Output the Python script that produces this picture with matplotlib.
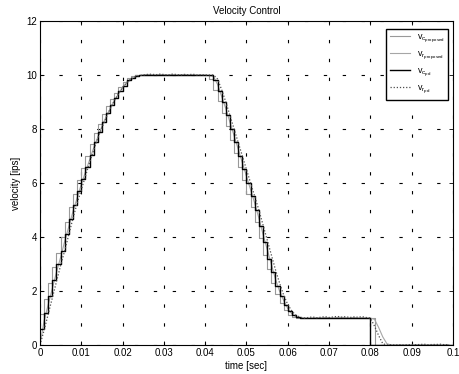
import numpy as np
import matplotlib
matplotlib.use("Agg")
import matplotlib.pyplot as plt

# periodo de muestreo del controlador (s)
periodo = 0.001
tiempo = np.arange(100) * periodo

# comando de velocidad, controlador propuesto
vc_propuesto = [
    1.15, 1.7, 2.3, 2.9, 3.4, 4.0, 4.55, 5.1, 5.6, 6.1,
    6.55, 7.0, 7.45, 7.85, 8.2, 8.55, 8.85, 9.1, 9.35, 9.55,
    9.75, 9.87, 9.95, 10, 10, 10, 10, 10, 10, 10,
    10, 10, 10, 10, 10, 10, 10, 10, 10, 10,
    10, 9.85, 9.45, 9.05, 8.6, 8.1, 7.6, 7.1, 6.6, 6.1,
    5.6, 5.1, 4.55, 3.95, 3.35, 2.8, 2.3, 1.9, 1.55, 1.3,
    1.12, 1.04, 1.0, 1, 1, 1, 1, 1, 1, 1,
    1, 1, 1, 1, 1, 1, 1, 1, 1, 1,
    1, 0, 0, 0, 0, 0, 0, 0, 0, 0,
    0, 0, 0, 0, 0, 0, 0, 0, 0, 0,
]

# respuesta de velocidad, controlador propuesto
vr_propuesto = [
    0, 0.9, 1.5, 2.1, 2.7, 3.25, 3.85, 4.4, 4.95, 5.45,
    5.95, 6.4, 6.85, 7.3, 7.7, 8.1, 8.45, 8.75, 9.05, 9.3,
    9.52, 9.7, 9.83, 9.92, 9.97, 10.0, 10.02, 10.01, 10.0, 10.02,
    10.01, 10.0, 10.02, 10.0, 10.01, 10.02, 10.0, 10.01, 10.0, 10.0,
    10.0, 9.98, 9.95, 9.65, 9.2, 8.75, 8.25, 7.75, 7.25, 6.75,
    6.25, 5.75, 5.25, 4.7, 4.1, 3.55, 3.0, 2.45, 2.0, 1.65,
    1.35, 1.15, 1.05, 1.01, 1.0, 0.99, 1.0, 1.01, 1.0, 1.02,
    1.01, 1.0, 1.02, 1.03, 1.01, 1.0, 1.02, 1.0, 1.01, 1.0,
    1.0, 0.95, 0.65, 0.3, 0.05, 0, 0, 0, 0, 0,
    0.0, 0.01, 0, 0.01, 0.0, 0.01, 0.01, 0, 0.01, 0.01,
]

# comando de velocidad, controlador PD
vc_pd = [
    0.6, 1.2, 1.8, 2.4, 3.0, 3.5, 4.1, 4.65, 5.2, 5.7,
    6.15, 6.6, 7.05, 7.5, 7.9, 8.25, 8.6, 8.9, 9.15, 9.4,
    9.6, 9.8, 9.9, 9.97, 10, 10, 10, 10, 10, 10,
    10, 10, 10, 10, 10, 10, 10, 10, 10, 10,
    10, 10, 9.8, 9.4, 9.0, 8.5, 8.0, 7.5, 7.0, 6.5,
    6.0, 5.5, 5.0, 4.4, 3.8, 3.2, 2.7, 2.2, 1.8, 1.5,
    1.25, 1.1, 1.03, 1, 1, 1, 1, 1, 1, 1,
    1, 1, 1, 1, 1, 1, 1, 1, 1, 1,
    0, 0, 0, 0, 0, 0, 0, 0, 0, 0,
    0, 0, 0, 0, 0, 0, 0, 0, 0, 0,
]

# respuesta de velocidad, controlador PD
vr_pd = [
    0, 0.55, 1.15, 1.75, 2.35, 2.95, 3.5, 4.1, 4.7, 5.25,
    5.75, 6.25, 6.75, 7.2, 7.65, 8.05, 8.4, 8.75, 9.05, 9.3,
    9.55, 9.72, 9.85, 9.93, 9.98, 10.0, 10.02, 10.03, 10.01, 10.03,
    10.02, 10.0, 10.03, 10.02, 10.0, 10.02, 10.01, 10.03, 10.0, 10.01,
    10.0, 10.0, 10.0, 9.85, 9.45, 9.0, 8.5, 8.0, 7.5, 7.0,
    6.5, 6.0, 5.5, 5.0, 4.45, 3.9, 3.35, 2.8, 2.3, 1.85,
    1.5, 1.25, 1.1, 1.03, 1.0, 1.02, 1.04, 1.01, 1.03, 1.05,
    1.02, 1.04, 1.06, 1.03, 1.05, 1.02, 1.04, 1.03, 1.05, 1.02,
    1.0, 0.7, 0.35, 0.05, 0, 0.01, 0, 0.01, 0, 0.01,
    0.02, 0.01, 0.02, 0.03, 0.01, 0.02, 0.02, 0.03, 0.01, 0.02,
]

marcas_x = [0, 0.01, 0.02, 0.03, 0.04, 0.05, 0.06, 0.07, 0.08, 0.09, 0.1]
etiquetas_x = ["0", "0.01", "0.02", "0.03", "0.04", "0.05", "0.06", "0.07", "0.08", "0.09", "0.1"]
marcas_y = [0, 2, 4, 6, 8, 10, 12]


def retener(t, v):
    # el retenedor de orden cero se mantiene hasta el final de la ventana
    return np.append(t, 0.1), np.append(v, v[-1])


def graficar():
    plt.rcParams["font.family"] = ["Liberation Sans", "DejaVu Sans"]
    plt.rcParams["mathtext.fontset"] = "custom"
    plt.rcParams["mathtext.rm"] = "Liberation Sans"
    plt.rcParams["mathtext.it"] = "Liberation Sans"

    fig = plt.figure(figsize=(4.59, 3.74), dpi=100)
    ax = fig.add_axes([0.0871, 0.0775, 0.8998, 0.8664])

    t, v = retener(tiempo, vc_propuesto)
    ax.plot(t, v, color="0.6", lw=0.8, drawstyle="steps-post",
            label=r"$\mathregular{v_{c_{proposed}}}$")
    ax.plot(tiempo, vr_propuesto, color="0.65", lw=0.8,
            label=r"$\mathregular{v_{r_{proposed}}}$")
    t, v = retener(tiempo, vc_pd)
    ax.plot(t, v, color="black", lw=1.0, drawstyle="steps-post",
            label=r"$\mathregular{v_{c_{pd}}}$")
    ax.plot(tiempo, vr_pd, color="0.3", lw=0.9, linestyle=(0, (1, 1.5)),
            label=r"$\mathregular{v_{r_{pd}}}$")

    ax.set_xlim(0, 0.1)
    ax.set_ylim(0, 12)
    ax.set_xticks(marcas_x)
    ax.set_xticklabels(etiquetas_x)
    ax.set_yticks(marcas_y)
    ax.tick_params(direction="in", length=3, width=0.6, labelsize=7,
                   top=True, right=True, pad=2)
    ax.grid(True, color="black", lw=0.8, linestyle=(0, (3, 14)))

    for lado in ax.spines.values():
        lado.set_linewidth(0.8)

    ax.set_title("Velocity Control", fontsize=7, pad=5)
    ax.set_xlabel("time [sec]", fontsize=7, labelpad=2)
    ax.set_ylabel("velocity [ips]", fontsize=7, labelpad=4)

    ax.legend(loc="upper right", bbox_to_anchor=(1.0, 0.99), fontsize=6.5,
              fancybox=False, edgecolor="black", framealpha=1,
              handlelength=2.2, borderpad=0.4, labelspacing=0.5)

    fig.savefig("out.png", dpi=100)


if __name__ == "__main__":
    graficar()
